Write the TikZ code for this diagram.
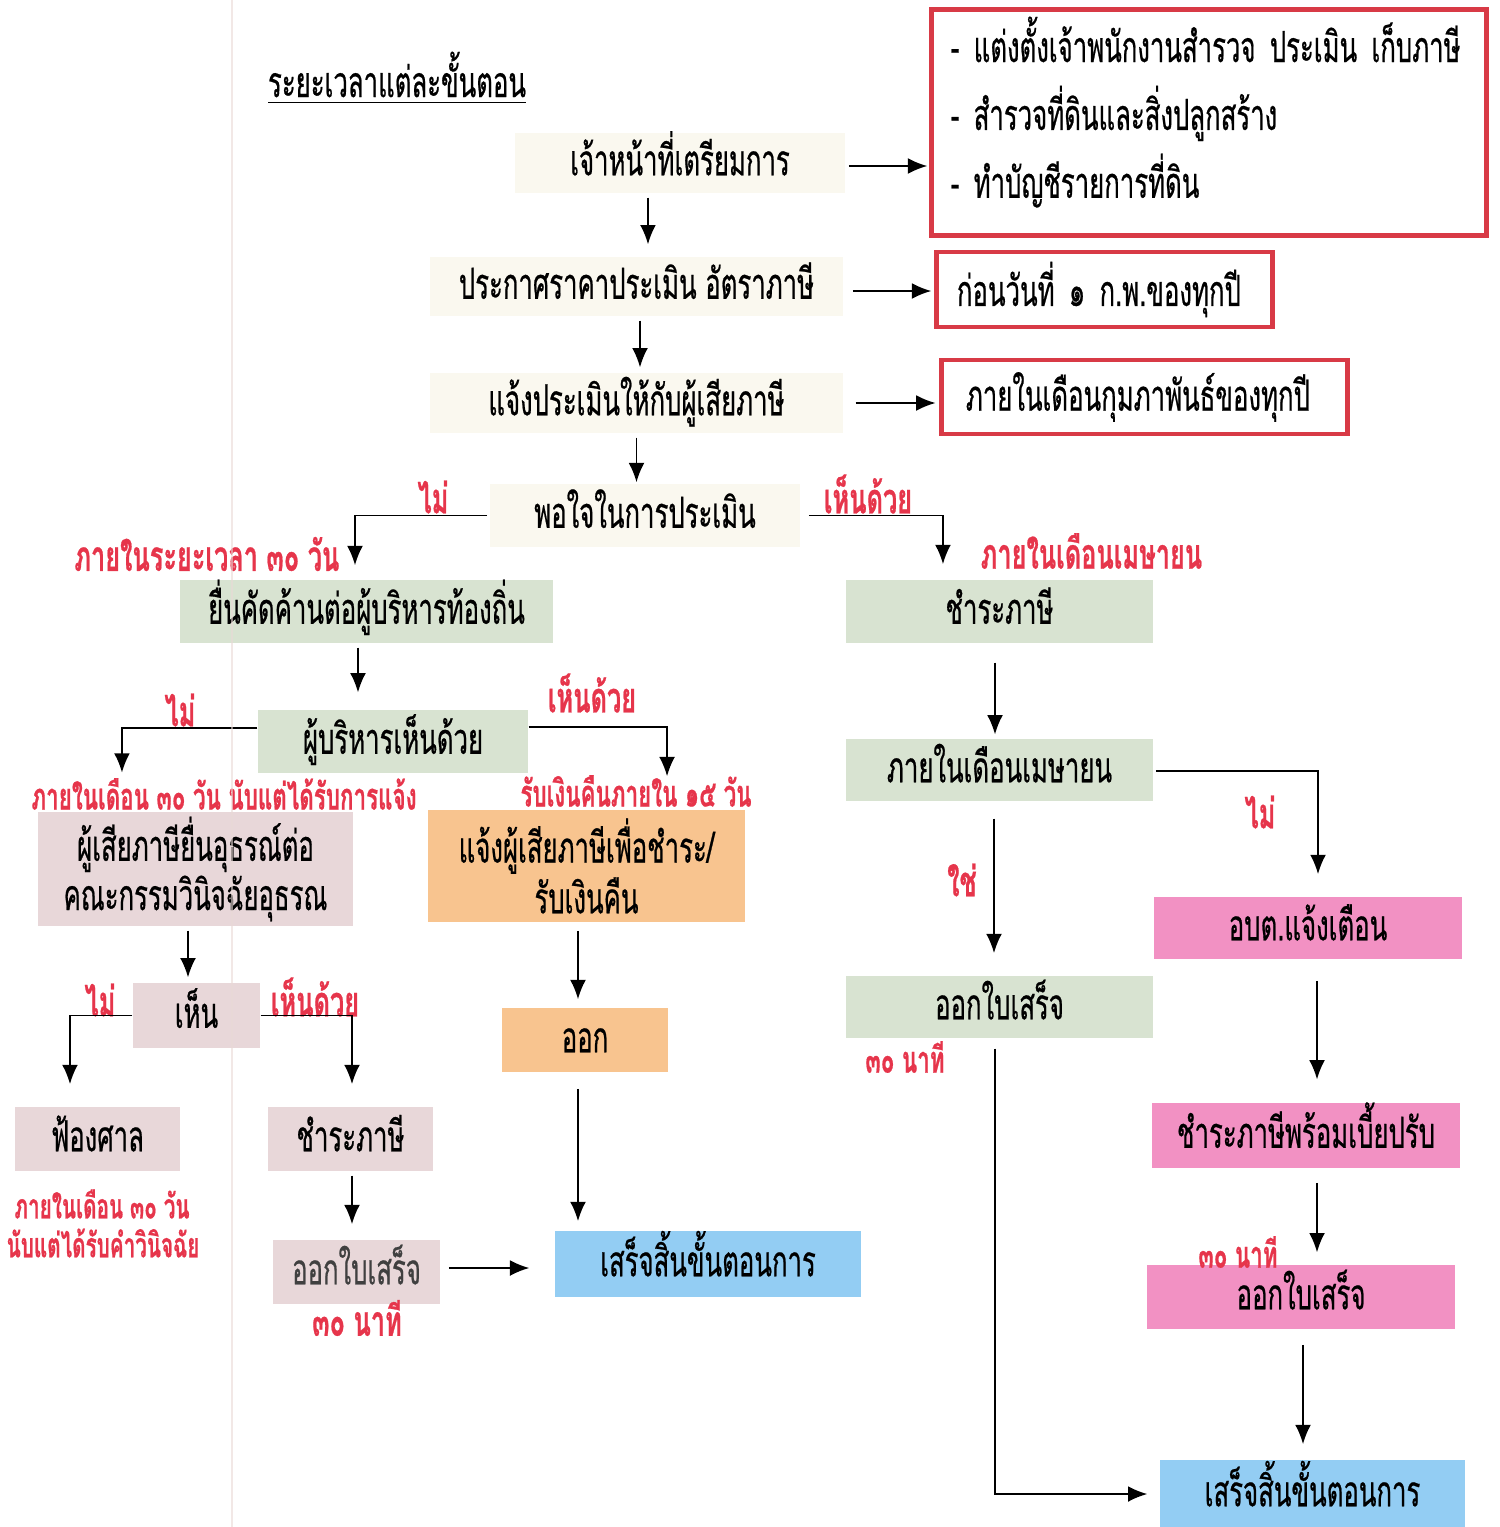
\documentclass[tikz,border=0pt]{standalone}
\usepackage{fontspec}
\newfontfamily\thai[Script=Thai, FakeStretch=0.6, FakeBold=0.5]{Loma}
\usetikzlibrary{arrows.meta}
\definecolor{cTan}{HTML}{FAF8EF}
\definecolor{cSage}{HTML}{D8E3D1}
\definecolor{cMauve}{HTML}{E8D7D9}
\definecolor{cPeach}{HTML}{F8C48F}
\definecolor{cRose}{HTML}{F291C3}
\definecolor{cSky}{HTML}{93CDF3}
\definecolor{cFrame}{HTML}{D83A46}
\definecolor{cNote}{HTML}{E6354B}
\definecolor{cFold}{HTML}{E9D9D6}

\begin{document}
\begin{tikzpicture}[x=0.01cm, y=-0.01cm, >={Latex[length=5.5pt, width=4.5pt]},
  font=\thai\fontsize{12.2}{14}\selectfont,
  box/.style 2 args={inner sep=0pt, align=center, minimum width=#1*0.01cm, minimum height=#2*0.01cm},
  line/.style={text height=0.8em, text depth=0.1em},
  frame/.style={draw=cFrame, line width=1.4pt, inner ysep=0pt, align=left, font=\thai\fontsize{12.2}{19.3}\selectfont},
  note/.style={text=cNote, inner sep=0pt, font=\thai\bfseries\fontsize{12}{14}\selectfont},
  smallnote/.style={note, font=\thai\bfseries\fontsize{10.6}{12}\selectfont},
  arr/.style={->, line width=0.5pt},
  gaps/.style 2 args={shorten <=#1pt, shorten >=#2pt}]

\useasboundingbox (0,0) rectangle (1499,1527);

\node[inner sep=0pt] (title) at (397,78) {\underline{ระยะเวลาแต่ละขั้นตอน}};

\node[box={330}{60}, line, fill=cTan] (prep) at (680,163) {เจ้าหน้าที่เตรียมการ};
\node[box={413}{59}, line, fill=cTan] (ann) at (636.5,286.5) {ประกาศราคาประเมิน อัตราภาษี};
\node[box={413}{60}, line, fill=cTan] (noti) at (636.5,403) {แจ้งประเมินให้กับผู้เสียภาษี};
\node[box={310}{63}, line, fill=cTan] (sat) at (645,515.5) {พอใจในการประเมิน};

\node[frame, text width=5.16cm, inner xsep=0.19cm, minimum height=2.25cm] (red1) at (1209,122.5)
  {- แต่งตั้งเจ้าพนักงานสำรวจ ประเมิน เก็บภาษี\\- สำรวจที่ดินและสิ่งปลูกสร้าง\\- ทำบัญชีรายการที่ดิน\rule[-8.7pt]{0pt}{0pt}};
\node[frame, text width=2.95cm, inner xsep=0.2cm, minimum height=0.75cm] (red2) at (1104.5,289.5) {ก่อนวันที่ ๑ ก.พ.ของทุกปี};
\node[frame, text width=3.57cm, inner xsep=0.24cm, minimum height=0.74cm] (red3) at (1144.5,397) {ภายในเดือนกุมภาพันธ์ของทุกปี};

\node[box={373}{63}, line, fill=cSage] (obj) at (366.5,611.5) {ยื่นคัดค้านต่อผู้บริหารท้องถิ่น};
\node[box={270}{63}, line, fill=cSage] (exe) at (393,741.5) {ผู้บริหารเห็นด้วย};
\node[box={315}{114}, fill=cMauve, font=\thai\fontsize{12.2}{14}\selectfont] (appeal) at (195.5,869) {ผู้เสียภาษียื่นอุธรณ์ต่อ\\คณะกรรมวินิจฉัยอุธรณ};
\node[box={317}{112}, fill=cPeach, font=\thai\fontsize{12.2}{12.6}\selectfont] (refund) at (586.5,866) {แจ้งผู้เสียภาษีเพื่อชำระ/\\รับเงินคืน};
\node[box={127}{65}, line, fill=cMauve] (seen) at (196.5,1015.5) {เห็น};
\node[box={165}{64}, line, fill=cMauve] (court) at (97.5,1139) {ฟ้องศาล};
\node[box={165}{64}, line, fill=cMauve] (pay2) at (350.5,1139) {ชำระภาษี};
\node[box={167}{64}, line, fill=cMauve, text=black!75] (rcp2) at (356.5,1272) {ออกใบเสร็จ};
\node[box={166}{64}, line, fill=cPeach] (issue) at (585,1040) {ออก};
\node[box={306}{66}, line, fill=cSky] (done1) at (708,1264) {เสร็จสิ้นขั้นตอนการ};

\node[box={307}{63}, line, fill=cSage] (pay1) at (999.5,611.5) {ชำระภาษี};
\node[box={307}{62}, line, fill=cSage] (april) at (999.5,770) {ภายในเดือนเมษายน};
\node[box={307}{62}, line, fill=cSage] (rcp1) at (999.5,1007) {ออกใบเสร็จ};
\node[box={308}{62}, line, fill=cRose] (warn) at (1308,928) {อบต.แจ้งเตือน};
\node[box={308}{65}, line, fill=cRose] (fine) at (1306,1135.5) {ชำระภาษีพร้อมเบี้ยปรับ};
\node[box={308}{64}, line, fill=cRose] (rcp3) at (1301,1297) {ออกใบเสร็จ};
\node[box={305}{68}, line, fill=cSky] (done2) at (1312.5,1494) {เสร็จสิ้นขั้นตอนการ};

\node[note] (n1) at (433,497) {ไม่};
\node[note, anchor=east] (n2) at (340,554) {ภายในระยะเวลา ๓๐ วัน};
\node[note] (n3) at (868,494) {เห็นด้วย};
\node[note, anchor=west] (n4) at (980,551) {ภายในเดือนเมษายน};
\node[note] (n5) at (180,710) {ไม่};
\node[note] (n6) at (592,693) {เห็นด้วย};
\node[smallnote] (n7) at (224,794) {ภายในเดือน ๓๐ วัน นับแต่ได้รับการแจ้ง};
\node[smallnote] (n8) at (636,791) {รับเงินคืนภายใน ๑๕ วัน};
\node[note] (n9) at (100,1000) {ไม่};
\node[note] (n10) at (315,997) {เห็นด้วย};
\node[note, font=\thai\bfseries\fontsize{9.8}{11}\selectfont] (n11) at (102,1204) {ภายในเดือน ๓๐ วัน};
\node[note, font=\thai\bfseries\fontsize{9.8}{11}\selectfont] (n12) at (103,1243) {นับแต่ได้รับคำวินิจฉัย};
\node[note] (n13) at (357,1318) {๓๐ นาที};
\node[note] (n14) at (962,880) {ใช่};
\node[note] (n15) at (1260,812) {ไม่};
\node[smallnote] (n16) at (905,1057) {๓๐ นาที};
\node[smallnote] (n17) at (1238,1252) {๓๐ นาที};

\draw[arr, gaps={1.1}{3.4}] ([xshift=-0.32cm]prep.south) -- ([xshift=-0.32cm]prep.south |- ann.north);
\draw[arr, gaps={1.1}{1.4}] ([xshift=0.035cm]ann.south) -- ([xshift=0.035cm]ann.south |- noti.north);
\draw[arr, gaps={1.1}{0.3}] (noti.south) -- (noti.south |- sat.north);
\draw[arr, gaps={0.9}{0.6}] ([yshift=-0.03cm]prep.east) -- ([yshift=-0.03cm]prep.east -| red1.west);
\draw[arr, gaps={2.6}{0.9}] ([yshift=-0.045cm]ann.east) -- ([yshift=-0.045cm]ann.east -| red2.west);
\draw[arr, gaps={3.4}{1.1}] (noti.east) -- (noti.east -| red3.west);

\draw[arr, gaps={0.6}{4}] (sat.west) -| ([xshift=-0.115cm]obj.north);
\draw[arr, gaps={2.3}{4.3}] (sat.east) -| ([xshift=-0.565cm]pay1.north);
\draw[arr, gaps={1.1}{4.8}] ([xshift=-0.085cm]obj.south) -- ([xshift=-0.085cm]obj.south |- exe.north);
\draw[arr, gaps={0}{11}] ([yshift=0.135cm]exe.west) -| ([xshift=-0.735cm]appeal.north);
\draw[arr, gaps={0}{9.4}] ([yshift=0.145cm]exe.east) -| ([xshift=0.805cm]refund.north);
\draw[arr, gaps={1.1}{1.4}] ([xshift=-0.075cm]appeal.south) -- ([xshift=-0.075cm]appeal.south |- seen.north);
\draw[arr, gaps={0}{6.3}] (seen.west) -| ([xshift=-0.275cm]court.north);
\draw[arr, gaps={0}{6.3}] (seen.east) -| ([xshift=0.015cm]pay2.north);
\draw[arr, gaps={1.1}{4.3}] ([xshift=0.015cm]pay2.south) -- ([xshift=0.015cm]pay2.south |- rcp2.north);
\draw[arr, gaps={2.3}{7.1}] ([yshift=0.04cm]rcp2.east) -- ([yshift=0.04cm]rcp2.east -| done1.west);
\draw[arr, gaps={2.3}{2.3}] ([xshift=-0.085cm]refund.south) -- ([xshift=-0.085cm]refund.south |- issue.north);
\draw[arr, gaps={4.6}{2.6}] ([xshift=-0.07cm]issue.south) -- ([xshift=-0.07cm]issue.south |- done1.north);

\draw[arr, gaps={5.4}{1.1}] ([xshift=-0.045cm]pay1.south) -- ([xshift=-0.045cm]pay1.south |- april.north);
\draw[arr, gaps={4.8}{6.3}] ([xshift=-0.055cm]april.south) -- ([xshift=-0.055cm]april.south |- rcp1.north);
\draw[arr, gaps={0.6}{6.3}] ([yshift=-0.01cm]april.east) -| ([xshift=0.1cm]warn.north);
\draw[arr, gaps={2.8}{3.4}] ([xshift=-0.045cm]rcp1.south) |- (done2.west);
\draw[arr, gaps={6}{6.5}] ([xshift=0.09cm]warn.south) -- ([xshift=0.09cm]warn.south |- fine.north);
\draw[arr, gaps={4}{3.4}] ([xshift=0.11cm]fine.south) -- ([xshift=0.11cm]fine.south |- rcp3.north);
\draw[arr, gaps={4.3}{4.3}] ([xshift=0.02cm]rcp3.south) -- ([xshift=0.02cm]rcp3.south |- done2.north);

\draw[cFold, line width=0.5pt, opacity=0.6] (232,0) -- (232,1527);

\end{tikzpicture}
\end{document}
